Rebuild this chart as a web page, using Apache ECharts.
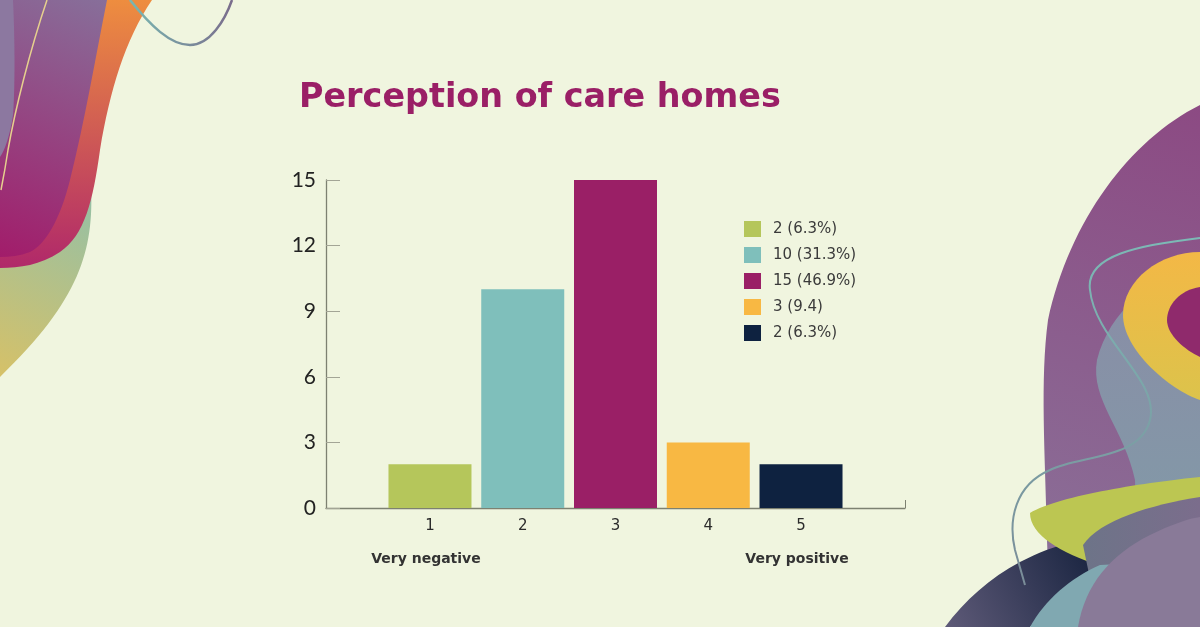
<!DOCTYPE html>
<html>
<head>
<meta charset="utf-8">
<title>Perception of care homes</title>
<script src="https://cdn.jsdelivr.net/npm/echarts@6.0.0/dist/echarts.min.js"></script>
<style>
  html, body { margin: 0; padding: 0; background: #f0f5df; }
  #main { width: 1200px; height: 627px; }
</style>
</head>
<body>
<div id="main"></div>
<script>
// Données du graphique
const categories = ["1", "2", "3", "4", "5"];
const counts = [2, 10, 15, 3, 2];
const legendLabels = ["2 (6.3%)", "10 (31.3%)", "15 (46.9%)", "3 (9.4)", "2 (6.3%)"];
const scaleEnds = ["Very negative", "Very positive"];
const yTicks = { min: 0, max: 15, step: 3 };
const barColors = ["#b5c65b", "#7fbfbb", "#9a1f66", "#f8b843", "#0e2240"];

const chart = echarts.init(document.getElementById("main"));

// Formes décoratives (fond)
function grad(x, y, x2, y2, c1, c2) {
  return new echarts.graphic.LinearGradient(x, y, x2, y2, [
    { offset: 0, color: c1 },
    { offset: 1, color: c2 },
  ]);
}

let shapeCount = 0;
function pathType(d) {
  const name = "decoPath" + shapeCount++;
  echarts.graphic.registerShape(name, echarts.graphic.extendPath(d, {}));
  return name;
}

function blob(d, fill) {
  return { type: pathType(d), silent: true, z: 0, style: { fill: fill } };
}

function curve(d, stroke, w) {
  return { type: pathType(d), silent: true, z: 1, style: { fill: null, stroke: stroke, lineWidth: w } };
}

const decorations = [
  // gauche
  blob("M0,230 C40,222 80,200 91,186 C94,250 80,300 0,377 Z", grad(1, 0, 0, 1, "#92c0a8", "#d6c168")),
  blob("M0,0 L152,0 C125,40 110,90 100,150 C93,200 85,235 60,252 C40,265 20,268 0,268 Z", grad(0, 0, 0, 1, "#ee8d3f", "#b0286a")),
  blob("M0,0 L107,0 C95,60 85,120 70,180 C60,220 45,245 30,252 C20,256 10,257 0,257 Z", grad(0, 1, 1, 0, "#a21c6a", "#876f9a")),
  blob("M0,0 L13,0 C15,40 15,90 13,115 C10,135 5,150 0,157 Z", "#8c78a0"),
  curve("M47,0 C30,50 15,110 8,150 C5,170 3,180 1,190", "#e6d08e", 1.5),
  curve("M130,0 C150,25 170,45 190,45 C210,45 225,20 232,0", grad(0, 0, 1, 0, "#79b9b2", "#7a6b8b"), 2.5),
  // droite
  blob("M1200,105 C1130,140 1070,220 1048,320 C1040,380 1045,450 1047,540 L1050,627 L1200,627 Z", grad(1, 0, 0, 1, "#8c4a83", "#8a749a")),
  blob("M1200,260 C1150,280 1110,310 1097,360 C1090,400 1125,430 1135,480 L1140,627 L1200,627 Z", grad(0, 0, 0, 1, "#8a8ca6", "#7f9ea8")),
  blob("M1200,252 C1160,252 1123,280 1123,315 C1123,350 1170,390 1200,400 Z", grad(0, 0, 0, 1, "#f3b846", "#dcc34b")),
  blob("M1200,287 C1180,290 1167,305 1167,320 C1167,335 1185,350 1200,357 Z", "#8f2a6c"),
  blob("M945,627 C965,600 990,578 1020,562 C1040,552 1055,546 1062,546 L1102,566 C1080,578 1058,598 1030,627 Z", grad(0, 1, 1, 0, "#5e5a78", "#15213d")),
  blob("M1030,513 C1060,495 1150,482 1200,477 L1200,540 C1160,545 1120,555 1100,566 C1060,552 1030,535 1030,513 Z", "#bcc652"),
  blob("M1083,545 C1100,520 1150,505 1200,497 L1200,627 L1100,627 Z", grad(0, 0, 1, 0, "#6d7488", "#7b6d8c")),
  blob("M1030,627 C1045,600 1070,578 1100,565 L1200,560 L1200,627 Z", "#80a8b1"),
  blob("M1078,627 C1085,585 1110,555 1150,535 C1170,525 1190,518 1200,517 L1200,627 Z", "#897a98"),
  curve("M1200,238 C1140,245 1085,255 1090,290 C1095,340 1160,380 1150,420 C1140,460 1080,455 1050,470 C1015,485 1008,520 1015,550 L1025,585", grad(0, 0, 0, 1, "#7cbab6", "#7a8c98"), 2),
];

// Une série par barre pour que la légende affiche chaque valeur
const series = counts.map((v, k) => ({
  name: legendLabels[k] + (k === 4 ? " " : ""),
  type: "bar",
  xAxisIndex: 1,
  yAxisIndex: 1,
  barWidth: 83,
  barGap: "-100%",
  itemStyle: { color: barColors[k] },
  data: categories.map((c, i) => (i === k ? v : "-")),
}));

const font = "DejaVu Sans";
const axisColor = "#7d8171";

const option = {
  backgroundColor: "#f0f5df",
  animation: false,
  graphic: decorations,
  title: {
    text: "Perception of care homes",
    left: 299,
    top: 82,
    padding: 0,
    textStyle: { fontFamily: font, fontWeight: "bold", fontSize: 33.4, color: "#9a1f66" },
  },
  legend: {
    orient: "vertical",
    left: 744,
    top: 221,
    padding: 0,
    icon: "rect",
    itemWidth: 17,
    itemHeight: 16,
    itemGap: 10,
    textStyle: { fontFamily: font, fontSize: 15, color: "#3a3a3a", padding: [0, 0, 0, 7] },
  },
  grid: [
    { left: 326, top: 180, width: 579, height: 328 },
    { left: 383.6, top: 180, width: 463.8, height: 328 },
  ],
  xAxis: [
    {
      gridIndex: 0,
      type: "value",
      min: 0,
      max: 1,
      interval: 1,
      axisLine: { show: true, lineStyle: { color: axisColor, width: 1.3 } },
      axisTick: { show: true, inside: true, length: 8, lineStyle: { color: axisColor } },
      axisLabel: { show: false },
      splitLine: { show: false },
    },
    {
      gridIndex: 1,
      type: "category",
      data: categories,
      axisLine: { show: false },
      axisTick: { show: false },
      axisLabel: {
        interval: 0,
        margin: 7,
        formatter: function (v, i) {
          let s = "{num|" + v + "}";
          if (i === 0) s += "\n{end|" + scaleEnds[0] + "}";
          if (i === categories.length - 1) s += "\n{end|" + scaleEnds[1] + "}";
          return s;
        },
        rich: {
          num: { fontFamily: font, fontSize: 15, color: "#2b2b2b", lineHeight: 22 },
          end: { fontFamily: font, fontSize: 14, fontWeight: "bold", color: "#333", lineHeight: 45, padding: [0, 8, 0, 0] },
        },
      },
    },
  ],
  yAxis: [
    {
      gridIndex: 0,
      type: "value",
      min: yTicks.min,
      max: yTicks.max,
      interval: yTicks.step,
      axisLine: { show: true, lineStyle: { color: axisColor, width: 1.3 } },
      axisTick: { show: true, inside: true, length: 14, lineStyle: { color: "#a3a596" } },
      axisLabel: { margin: 10, fontFamily: "Lato", fontSize: 21, color: "#222" },
      splitLine: { show: false },
    },
    {
      gridIndex: 1,
      type: "value",
      min: yTicks.min,
      max: yTicks.max,
      show: false,
    },
  ],
  series: series,
};

chart.setOption(option);
</script>
</body>
</html>
